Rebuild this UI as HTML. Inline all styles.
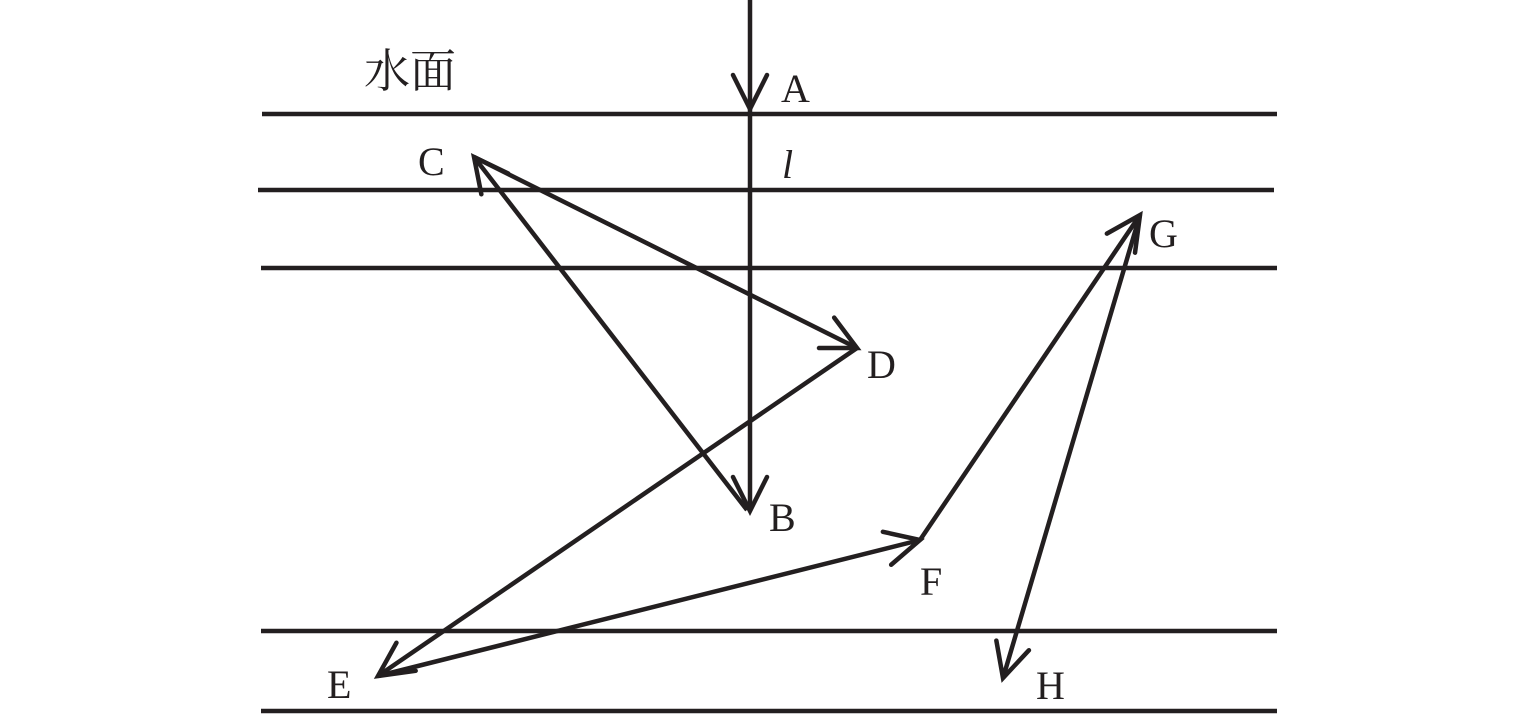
<!DOCTYPE html>
<html><head><meta charset="utf-8"><style>
html,body{margin:0;padding:0;background:#fff}
svg{display:block}
text{font-family:"Liberation Serif","Noto Serif CJK SC",serif;font-size:40px;fill:#231f20}
</style></head><body>
<svg width="1535" height="715" viewBox="0 0 1535 715" xmlns="http://www.w3.org/2000/svg">
<defs>
<marker id="ah" markerUnits="userSpaceOnUse" viewBox="-40 -22 46 44" markerWidth="46" markerHeight="44" refX="0" refY="0" orient="auto">
<path d="M-34,-17 L0,0 L-34,17" fill="none" stroke="#231f20" stroke-width="4.5" stroke-linecap="round" stroke-linejoin="miter"/>
</marker>
</defs>
<g stroke="#231f20" stroke-width="4.5" fill="none">
<line x1="262" y1="114" x2="1277" y2="114"/>
<line x1="258" y1="190" x2="1274" y2="190"/>
<line x1="261" y1="268" x2="1277" y2="268"/>
<line x1="261" y1="631" x2="1277" y2="631"/>
<line x1="261" y1="711" x2="1277" y2="711"/>
<line x1="750" y1="0" x2="750" y2="109" marker-end="url(#ah)"/>
<line x1="750" y1="109" x2="750" y2="511" marker-end="url(#ah)"/>
<line x1="747" y1="510" x2="474" y2="157" marker-end="url(#ah)"/>
<line x1="474" y1="157" x2="857" y2="348" marker-end="url(#ah)"/>
<line x1="857" y1="348" x2="378" y2="676" marker-end="url(#ah)"/>
<line x1="378" y1="676" x2="920" y2="540" marker-end="url(#ah)"/>
<line x1="920" y1="540" x2="1140" y2="215" marker-end="url(#ah)"/>
<line x1="1140" y1="215" x2="1003" y2="678" marker-end="url(#ah)"/>
</g>
<text x="364" y="87" font-size="46" style="font-size:46px">水面</text>
<text x="781" y="102">A</text>
<text x="418" y="175">C</text>
<text x="782" y="178" font-style="italic">l</text>
<text x="1149" y="247">G</text>
<text x="867" y="378">D</text>
<text x="769" y="531">B</text>
<text x="920" y="595">F</text>
<text x="327" y="698">E</text>
<text x="1036" y="699">H</text>
</svg>
</body></html>
